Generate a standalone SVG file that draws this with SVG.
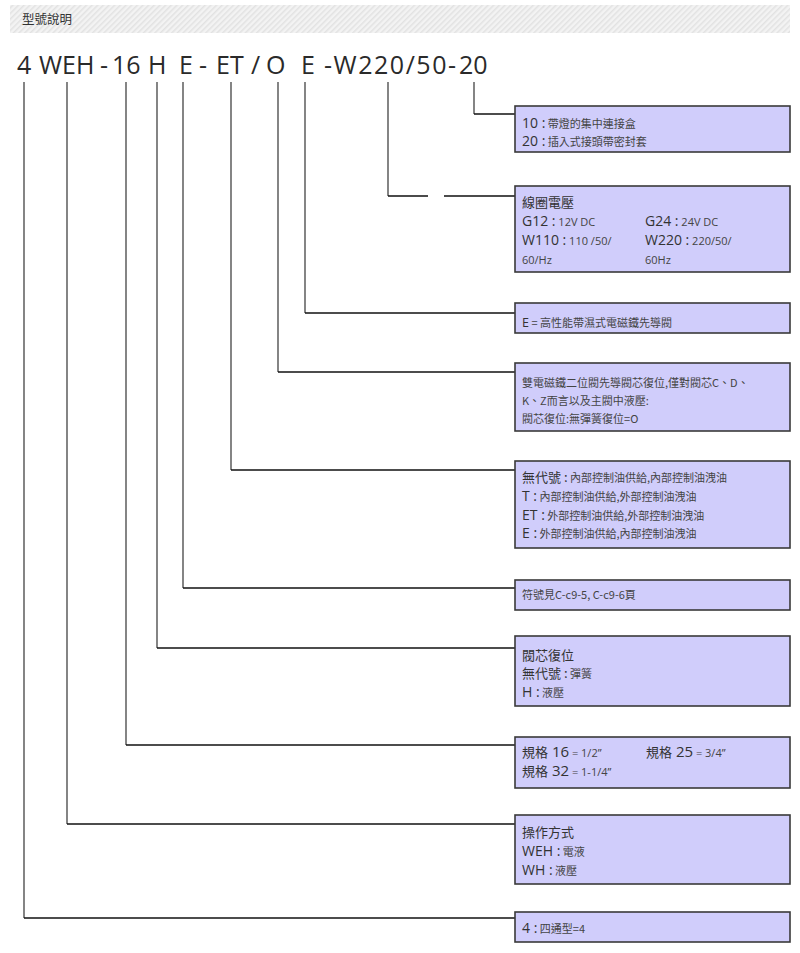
<svg xmlns="http://www.w3.org/2000/svg" width="800" height="953" viewBox="0 0 800 953">
<defs>
<pattern id="stripes" width="4" height="4" patternUnits="userSpaceOnUse" patternTransform="rotate(45)">
<rect width="4" height="4" fill="#f3f3f3"/>
<rect width="1.5" height="4" fill="#e2e2e2"/>
</pattern>
</defs>
<style>
text{font-family:"Open Sans","Noto Sans CJK TC",sans-serif;fill:#333}
.cjk{font-family:"Noto Sans CJK TC","Noto Sans CJK SC",sans-serif}
.box{fill:#d0cdfb;stroke:#3a3a3a;stroke-width:1.6}
.lbl{font-size:14px}
.hd{font-size:13px;font-family:"Noto Sans CJK TC",sans-serif}
.d{font-size:11px;fill:#444;font-family:"Noto Sans CJK TC",sans-serif}
.dl{font-size:11px;fill:#444}
.big{font-size:25px;fill:#2a2a2a}
.v{fill:none;stroke:#333;stroke-width:1.2}
.h{fill:none;stroke:#111;stroke-width:1.6}
</style>
<g id="header">
<rect x="10" y="5" width="780" height="28" fill="url(#stripes)"/>
<text x="22" y="24" class="cjk" font-size="12.5" fill="#333">型號說明</text>
</g>
<g id="model">
<text class="big" x="17" y="74">4</text>
<text class="big" x="39" y="74">WEH</text>
<text class="big" x="100" y="74">-</text>
<text class="big" x="112" y="74">16</text>
<text class="big" x="148" y="74">H</text>
<text class="big" x="179" y="74">E</text>
<text class="big" x="199" y="74">-</text>
<text class="big" x="216" y="74">ET</text>
<text class="big" x="251" y="74">/</text>
<text class="big" x="266" y="74">O</text>
<text class="big" x="301" y="74">E</text>
<text class="big" x="324" y="74" textLength="132" lengthAdjust="spacing">-W220/50-</text>
<text class="big" x="459" y="74">20</text>
</g>
<g id="connectors">
<path class="v" d="M474 82V114"/><path class="h" d="M474 114H515"/>
<path class="v" d="M388 82V196"/><path class="h" d="M388 196H428M444 196H515"/>
<path class="v" d="M305 82V313"/><path class="h" d="M305 313H515"/>
<path class="v" d="M278 82V372"/><path class="h" d="M278 372H515"/>
<path class="v" d="M231 82V470"/><path class="h" d="M231 470H515"/>
<path class="v" d="M183 82V588"/><path class="h" d="M183 588H515"/>
<path class="v" d="M157 82V648"/><path class="h" d="M157 648H515"/>
<path class="v" d="M126 82V745"/><path class="h" d="M126 745H515"/>
<path class="v" d="M67 82V824"/><path class="h" d="M67 824H515"/>
<path class="v" d="M24 82V918"/><path class="h" d="M24 918H515"/>
</g>
<g id="n-connector">
<rect class="box" x="515" y="106" width="275" height="46"/>
<text x="522" y="128"><tspan class="lbl">10 :</tspan><tspan class="d"> 帶燈的集中連接盒</tspan></text>
<text x="522" y="146"><tspan class="lbl">20 :</tspan><tspan class="d"> 插入式接頭帶密封套</tspan></text>
</g>
<g id="n-voltage">
<rect class="box" x="515" y="186" width="275" height="86"/>
<text x="522" y="207" class="hd">線圈電壓</text>
<text x="522" y="226"><tspan class="lbl">G12 :</tspan><tspan class="dl"> 12V DC</tspan></text>
<text x="645" y="226"><tspan class="lbl">G24 :</tspan><tspan class="dl"> 24V DC</tspan></text>
<text x="522" y="245"><tspan class="lbl">W110 :</tspan><tspan class="dl"> 110 /50/</tspan></text>
<text x="645" y="245"><tspan class="lbl">W220 :</tspan><tspan class="dl"> 220/50/</tspan></text>
<text x="522" y="264" class="dl">60/Hz</text>
<text x="645" y="264" class="dl">60Hz</text>
</g>
<g id="n-E">
<rect class="box" x="515" y="303" width="275" height="30"/>
<text x="522" y="327"><tspan font-size="12.5">E</tspan><tspan class="d"> = 高性能帶濕式電磁鐵先導閥</tspan></text>
</g>
<g id="n-O">
<rect class="box" x="515" y="363" width="275" height="68"/>
<text x="522" y="387" class="d">雙電磁鐵二位閥先導閥芯復位,僅對閥芯C、D、</text>
<text x="522" y="405" class="d">K、Z而言以及主閥中液壓:</text>
<text x="522" y="423" class="d">閥芯復位:無彈簧復位=O</text>
</g>
<g id="n-ET">
<rect class="box" x="515" y="461" width="275" height="87"/>
<text x="522" y="482"><tspan class="hd">無代號 :</tspan><tspan class="d"> 內部控制油供給,內部控制油洩油</tspan></text>
<text x="522" y="501"><tspan class="lbl">T :</tspan><tspan class="d"> 內部控制油供給,外部控制油洩油</tspan></text>
<text x="522" y="520"><tspan class="lbl">ET :</tspan><tspan class="d"> 外部控制油供給,外部控制油洩油</tspan></text>
<text x="522" y="538"><tspan class="lbl">E :</tspan><tspan class="d"> 外部控制油供給,內部控制油洩油</tspan></text>
</g>
<g id="n-symbol">
<rect class="box" x="515" y="580" width="275" height="30"/>
<text x="522" y="599" class="d">符號見C-c9-5, C-c9-6頁</text>
</g>
<g id="n-H">
<rect class="box" x="515" y="636" width="275" height="70"/>
<text x="522" y="660" class="hd">閥芯復位</text>
<text x="522" y="678"><tspan class="hd">無代號 :</tspan><tspan class="d"> 彈簧</tspan></text>
<text x="522" y="697"><tspan class="lbl">H :</tspan><tspan class="d"> 液壓</tspan></text>
</g>
<g id="n-size">
<rect class="box" x="515" y="737" width="275" height="51"/>
<text x="522" y="757"><tspan class="hd">規格</tspan><tspan font-size="15"> 16</tspan><tspan class="dl"> = 1/2”</tspan></text>
<text x="646" y="757"><tspan class="hd">規格</tspan><tspan font-size="15"> 25</tspan><tspan class="dl"> = 3/4”</tspan></text>
<text x="522" y="776"><tspan class="hd">規格</tspan><tspan font-size="15"> 32</tspan><tspan class="dl"> = 1-1/4”</tspan></text>
</g>
<g id="n-operation">
<rect class="box" x="515" y="815" width="275" height="69"/>
<text x="522" y="837" class="hd">操作方式</text>
<text x="522" y="856"><tspan class="lbl">WEH :</tspan><tspan class="d"> 電液</tspan></text>
<text x="522" y="875"><tspan class="lbl">WH :</tspan><tspan class="d"> 液壓</tspan></text>
</g>
<g id="n-4">
<rect class="box" x="515" y="912" width="275" height="30"/>
<text x="522" y="933"><tspan class="lbl">4 :</tspan><tspan class="d"> 四通型=4</tspan></text>
</g>
</svg>
